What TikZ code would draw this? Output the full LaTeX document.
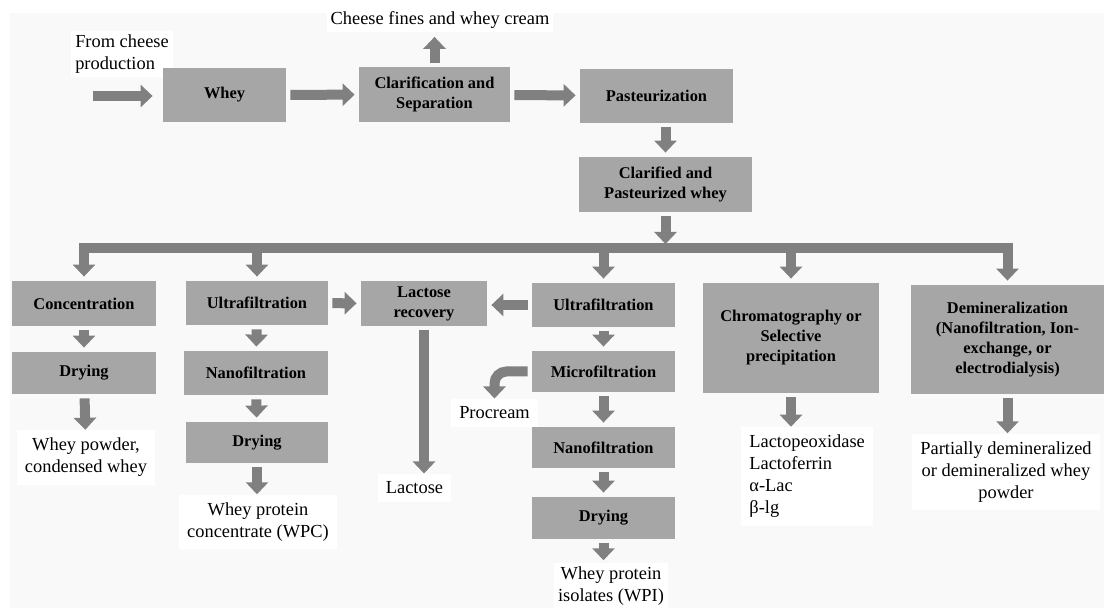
\documentclass[tikz,border=0pt]{standalone}
\usepackage{fontspec}
\setmainfont{Liberation Serif}
\usetikzlibrary{arrows.meta, positioning, calc}
\definecolor{boxgray}{RGB}{166,166,166}
\definecolor{arrowgray}{RGB}{128,128,128}
\definecolor{paper}{RGB}{249,249,249}

\begin{document}
\begin{tikzpicture}[x=0.5pt, y=-0.5pt,
  procbox/.style={fill=boxgray, inner sep=1pt, align=center, font=\bfseries\fontsize{8.2}{10}\selectfont},
  prodtext/.style={fill=white, inner sep=4pt, align=center, font=\fontsize{9.2}{11}\selectfont},
  flow/.style={draw=arrowgray, line width=5pt, -{Triangle[width=11pt, length=6pt]}, shorten <=2pt, shorten >=2pt},
  busline/.style={draw=arrowgray, line width=5pt}]
  \useasboundingbox (0,0) rectangle (1104,608);
  \fill[white] (0,0) rectangle (1104,608);
  \fill[paper] (10,13) rectangle (1104,608);

  % Top line
  \node[prodtext, align=left, inner sep=2pt] (src) at (122,54) {From cheese\\production};
  \coordinate (feed) at (89,96);
  \node[procbox, minimum width=61.5pt, minimum height=27pt] (whey) at (224.5,95) {Whey};
  \node[procbox, minimum width=75.5pt, minimum height=27.5pt] (clar) at (434.5,94.5) {Clarification and\\Separation};
  \node[prodtext, inner sep=2pt] (fines) at (440,20) {Cheese fines and whey cream};
  \node[procbox, minimum width=76.5pt, minimum height=27pt] (past) at (656.5,96) {Pasteurization};
  \node[procbox, minimum width=86.5pt, minimum height=27.5pt] (clpw) at (665.5,184.5) {Clarified and\\Pasteurized whey};

  \draw[flow, shorten >=5pt] (feed) -- (whey.west |- feed);
  \draw[flow] (whey) -- (clar);
  \draw[flow] (clar.north) -- (clar.north |- fines.south);
  \draw[flow] (clar) -- (past);
  \draw[flow] (clpw.north |- past.south) -- (clpw);

  % Process boxes
  \node[procbox, minimum width=72pt, minimum height=22.5pt] (conc) at (84,303.5) {Concentration};
  \node[procbox, minimum width=72pt, minimum height=21pt] (dry1) at (84,373) {Drying};
  \node[procbox, minimum width=71pt, minimum height=22pt] (uf1) at (257,303) {Ultrafiltration};
  \node[procbox, minimum width=72pt, minimum height=22pt] (nano1) at (256,373) {Nanofiltration};
  \node[procbox, minimum width=71pt, minimum height=20.5pt] (dry2) at (257,442.5) {Drying};
  \node[procbox, minimum width=63pt, minimum height=22.5pt] (lacrec) at (424,303.5) {Lactose\\recovery};
  \node[procbox, minimum width=71.5pt, minimum height=22pt] (uf2) at (603.5,305) {Ultrafiltration};
  \node[procbox, minimum width=71.5pt, minimum height=20.5pt] (micro) at (603.5,371.5) {Microfiltration};
  \node[procbox, minimum width=71.5pt, minimum height=20.5pt] (nano2) at (603.5,447.5) {Nanofiltration};
  \node[procbox, minimum width=71.5pt, minimum height=21pt] (dry3) at (603.5,518) {Drying};
  \node[procbox, minimum width=88pt, minimum height=55pt] (chrom) at (791,338) {Chromatography or\\Selective\\precipitation};
  \node[procbox, minimum width=96.5pt, minimum height=54.5pt] (demin) at (1007.5,339.5) {Demineralization\\(Nanofiltration, Ion-\\exchange, or\\electrodialysis)};

  % Products
  \node[prodtext] (wpow) at (86,457.5) {Whey powder,\\condensed whey};
  \node[prodtext] (wpc) at (258,522) {Whey protein\\concentrate (WPC)};
  \node[prodtext] (lactose) at (414.5,488) {Lactose};
  \node[prodtext] (procream) at (494.5,413) {Procream};
  \node[prodtext, inner sep=2pt] (wpi) at (611,586) {Whey protein\\isolates (WPI)};
  \node[prodtext, align=left, anchor=west] (enzymes) at (741,476.5) {Lactopeoxidase\\Lactoferrin\\α-Lac\\β-lg};
  \node[prodtext] (demtext) at (1006,472) {Partially demineralized\\or demineralized whey\\powder};

  % Distribution bar
  \coordinate (bus) at (0,248);
  \draw[busline] ([xshift=-2.5pt]conc.north |- bus) -- ([xshift=2.5pt]demin.north |- bus);
  \draw[flow] (clpw) -- (clpw |- bus);
  \foreach \n in {conc, uf1, uf2, chrom, demin}
    \draw[flow, shorten <=0pt] (\n |- bus) -- (\n);

  % Branches
  \draw[flow] (conc) -- (dry1);
  \draw[flow, shorten >=0pt] (dry1) -- (wpow);
  \draw[flow] (uf1) -- (nano1);
  \draw[flow] (nano1) -- (dry2);
  \draw[flow, shorten >=0pt] (dry2) -- (dry2.south |- wpc.north);
  \draw[flow] (uf1) -- (lacrec);
  \draw[flow] (uf2.west) -- (uf2.west -| lacrec.east);
  \draw[flow, shorten >=0pt] (lacrec.south) -- (lacrec.south |- lactose.north);
  \draw[flow] (uf2) -- (micro);
  \draw[flow, shorten >=0pt, rounded corners=6pt] (micro.west) -| (procream);
  \draw[flow] (micro) -- (nano2);
  \draw[flow] (nano2) -- (dry3);
  \draw[flow, shorten >=1pt] (dry3) -- (dry3.south |- wpi.north);
  \draw[flow, shorten >=0pt] (chrom) -- (chrom |- enzymes.north);
  \draw[flow, shorten >=0pt] (demin) -- (demin |- demtext.north);
\end{tikzpicture}
\end{document}
